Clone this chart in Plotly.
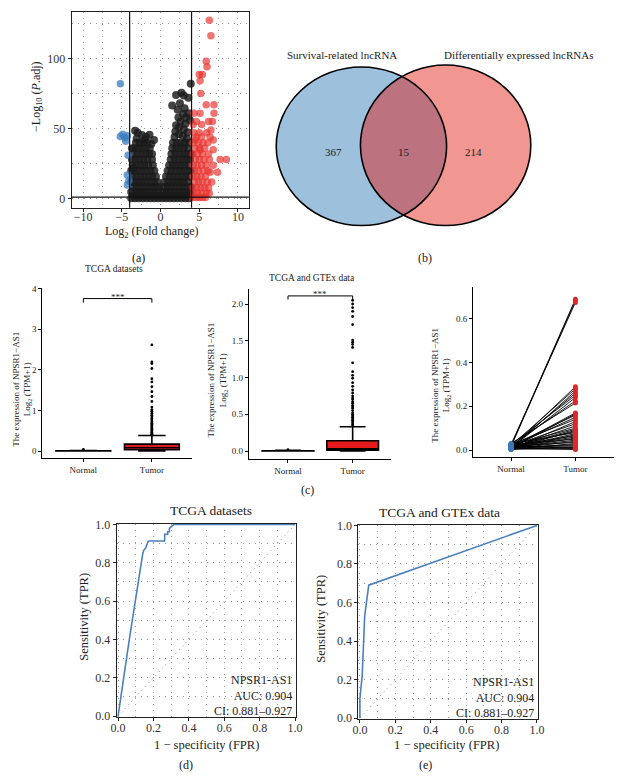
import plotly.graph_objects as go

W, H = 622, 777
FONT = "Liberation Serif"
TXT = "#222222"

# ---------------- (a) volcano data ----------------
fc_cutoff = 4.0
padj_cutoff = 1.3
black_rows = [
    (0.5, [-3.8, -3.3, -2.8, -2.3, -1.8, -1.3, -0.8, -0.3, 0.2, 0.7, 1.2, 1.7, 2.2, 2.7, 3.2, 3.7]),
    (2.5, [-3.6, -3.1, -2.6, -2.1, -1.6, -1.1, -0.6, -0.1, 0.4, 0.9, 1.4, 1.9, 2.4, 2.9, 3.4, 3.9]),
    (5, [-3.8, -3.3, -2.8, -2.3, -1.8, -1.3, -0.8, -0.3, 0.3, 0.8, 1.3, 1.8, 2.3, 2.8, 3.3, 3.8]),
    (8.5, [-3.6, -3.1, -2.6, -2.1, -1.6, -1.1, -0.6, -0.2, 0.4, 0.9, 1.4, 1.9, 2.4, 2.9, 3.4, 3.9]),
    (12, [-3.8, -3.3, -2.8, -2.3, -1.8, -1.3, -0.8, -0.4, 0.5, 1.0, 1.5, 2.0, 2.5, 3.0, 3.5]),
    (16, [-3.6, -3.1, -2.6, -2.1, -1.6, -1.1, -0.6, 0.7, 1.2, 1.7, 2.2, 2.7, 3.2, 3.7]),
    (20, [-3.8, -3.3, -2.8, -2.3, -1.8, -1.3, -0.8, 0.9, 1.4, 1.9, 2.4, 2.9, 3.4, 3.9]),
    (24, [-3.6, -3.1, -2.6, -2.1, -1.6, -1.0, 1.1, 1.6, 2.1, 2.6, 3.1, 3.6]),
    (28, [-3.7, -3.2, -2.7, -2.2, -1.7, -1.1, 1.3, 1.8, 2.3, 2.8, 3.3, 3.8]),
    (32, [-3.5, -3.0, -2.5, -2.0, -1.5, -1.1, 1.4, 1.9, 2.4, 2.9, 3.4, 3.9]),
    (36, [-3.4, -2.9, -2.4, -1.9, -1.4, 1.5, 2.0, 2.5, 3.0, 3.5]),
    (40, [-3.2, -2.7, -2.2, -1.7, 1.6, 2.1, 2.6, 3.1, 3.6]),
]
black_extra_x = [-3.3, -2.95, -2.4, -1.9, -1.43, -0.85, -3.1, -2.1, -1.2, -3.7, -3.6,
                 1.8, 2.4, 2.9, 3.4, 1.9, 2.4, 3.0, 3.5, 2.0, 2.6, 3.2, 3.8, 2.3, 2.9, 3.6,
                 1.5, 2.5, 3.1, 2.0, 2.7, 3.0, 3.6, 3.9, 2.2, 3.3]
black_extra_y = [48.5, 47, 45.5, 44, 45.6, 42, 43, 41.5, 39, 36, 22,
                 44, 46, 45, 43, 48, 51, 49.5, 47.5, 52.5, 55, 53.5, 56, 58, 60.5, 61,
                 66.5, 68, 64.5, 74, 75.5, 73.5, 72, 82, 63.5, 58]
red_rows = [
    (1, [4.2, 4.6, 5.0, 5.4, 5.8]),
    (4, [4.3, 4.8, 5.3, 5.9, 6.3]),
    (8, [4.2, 4.7, 5.2, 5.7, 6.2]),
    (12, [4.4, 4.9, 5.4, 6.0, 6.6]),
    (16, [4.2, 4.7, 5.2, 5.8]),
    (19, [6.4, 7.35]),
    (20, [4.4, 4.9, 5.5, 6.1]),
    (24, [4.2, 4.7, 5.3, 5.9, 6.8]),
    (28, [4.5, 5.0, 5.6, 6.3, 7.7, 8.5]),
    (32, [4.2, 4.8, 5.4, 6.2]),
    (35, [5.1, 6.8]),
    (36, [4.4, 5.0, 5.7]),
    (40, [4.2, 4.9, 5.5, 6.1]),
    (42, [4.5, 6.8]),
    (44, [4.6, 5.3, 6.4]),
    (47, [4.3, 5.0, 5.95]),
    (49, [6.5]),
    (53, [4.2, 5.3]),
    (55, [4.6, 6.2, 6.7]),
    (61, [4.3, 5.1, 6.9]),
    (67, [5.9, 6.9]),
    (75, [5.2]),
    (84, [5.1]),
    (88.5, [5.0, 5.4]),
    (94, [6.0]),
    (98, [5.9]),
    (116, [6.5]),
    (127, [6.3]),
]
blue_x = [-5.2, -5.2, -4.9, -4.6, -4.3, -4.5, -4.2, -4.3, -4.1, -4.3]
blue_y = [82, 44.5, 46, 43.5, 45, 41, 31, 17, 13, 10]

# ---------------- (b) venn data ----------------
venn_labels = ["Survival-related lncRNA", "Differentially expressed lncRNAs"]
venn_counts = [367, 15, 214]  # left only, overlap, right only

# ---------------- (c) expression data ----------------
groups = ["Normal", "Tumor"]
tcga_box = dict(q1=[0.0, 0.03], median=[0.0, 0.08], q3=[0.005, 0.17],
                lower=[0.0, 0.0], upper=[0.01, 0.38])
tcga_normal_out = [0.04]
tcga_tumor_out = [2.61, 2.19, 2.15, 2.03, 1.78, 1.70, 1.58, 1.46, 1.34, 1.22, 1.08, 1.02,
                  0.98, 0.93, 0.88, 0.84, 0.80, 0.76, 0.72, 0.68, 0.65, 0.62, 0.59, 0.56,
                  0.53, 0.50, 0.47, 0.45, 0.43, 0.41, 0.39]
gtex_box = dict(q1=[0.0, 0.01], median=[0.0, 0.03], q3=[0.004, 0.14],
                lower=[0.0, 0.0], upper=[0.01, 0.33])
gtex_normal_out = [0.02]
gtex_tumor_out = [2.05, 2.0, 1.95, 1.9, 1.83, 1.72, 1.51, 1.48, 1.45, 1.41, 1.20, 1.08, 1.03,
                  0.99, 0.93, 0.88, 0.83, 0.79, 0.75, 0.72, 0.70, 0.67, 0.65, 0.62, 0.60,
                  0.58, 0.55, 0.52, 0.50, 0.48, 0.46, 0.44, 0.42, 0.40, 0.38, 0.36, 0.34]
tcga_bracket = (3.65, 3.75)
gtex_bracket = (2.06, 2.11)

paired_normal = [0.02, 0.015, 0.025, 0.01, 0.02, 0.005, 0.015, 0.025, 0.01, 0.02, 0.03,
                 0.012, 0.008, 0.02, 0.015, 0.025, 0.005, 0.018, 0.01, 0.022, 0.012, 0.006,
                 0.016, 0.028, 0.01, 0.004, 0.02, 0.014, 0.008, 0.024, 0.012, 0.006, 0.018,
                 0.003, 0.01, 0.015, 0.005, 0.02, 0.008, 0.012, 0.004, 0.01]
paired_tumor = [0.69, 0.685, 0.675, 0.29, 0.28, 0.27, 0.26, 0.25, 0.24, 0.225, 0.215, 0.17,
                0.165, 0.16, 0.15, 0.14, 0.13, 0.12, 0.11, 0.10, 0.095, 0.09, 0.085, 0.08,
                0.075, 0.07, 0.065, 0.06, 0.055, 0.05, 0.045, 0.04, 0.035, 0.03, 0.025, 0.02,
                0.015, 0.012, 0.01, 0.008, 0.005, 0.003]

# ---------------- (d)/(e) ROC data ----------------
roc_d_fpr = [0, 0.066, 0.14, 0.145, 0.155, 0.16, 0.171, 0.263, 0.263, 0.28, 0.28, 0.29, 0.29, 0.315, 1.0]
roc_d_tpr = [0, 0.415, 0.85, 0.865, 0.875, 0.89, 0.914, 0.914, 0.949, 0.949, 0.962, 0.962, 0.98, 1.0, 1.0]
roc_e_fpr = [0, 0.0, 0.013, 0.027, 0.05, 1.0]
roc_e_tpr = [0, 0.10, 0.22, 0.53, 0.69, 1.0]
roc_lines = ["NPSR1-AS1", "AUC: 0.904", "CI: 0.881–0.927"]


def flatten(rows):
    xs, ys = [], []
    for yv, xl in rows:
        for xv in xl:
            xs.append(xv)
            ys.append(yv)
    return xs, ys


def dx(a, b):
    return [a / W, b / W]


def dy(top, bottom):
    return [1 - bottom / H, 1 - top / H]


fig = go.Figure()

# volcano
bx, by = flatten(black_rows)
bx += black_extra_x
by += black_extra_y
rx, ry = flatten(red_rows)
fig.add_trace(go.Scatter(x=bx, y=by, mode="markers", xaxis="x", yaxis="y",
                         marker=dict(size=8, color="#1a1a1a", opacity=0.82, line=dict(width=0))))
fig.add_trace(go.Scatter(x=rx, y=ry, mode="markers", xaxis="x", yaxis="y",
                         marker=dict(size=7.5, color="#e8302c", opacity=0.68, line=dict(width=0))))
fig.add_trace(go.Scatter(x=blue_x, y=blue_y, mode="markers", xaxis="x", yaxis="y",
                         marker=dict(size=7.5, color="#3a7bbf", opacity=0.75, line=dict(width=0))))


def add_box(box, xa, ya):
    fills = ["#377eb8", "#e41a1c"]
    for i in range(2):
        fig.add_trace(go.Box(x=[i + 1], q1=[box["q1"][i]], median=[box["median"][i]],
                             q3=[box["q3"][i]], lowerfence=[box["lower"][i]],
                             upperfence=[box["upper"][i]], boxpoints=False, width=0.8,
                             fillcolor=fills[i], line=dict(color="black", width=1.6),
                             xaxis=xa, yaxis=ya))


add_box(tcga_box, "x3", "y3")
fig.add_trace(go.Scatter(x=[1] * len(tcga_normal_out) + [2] * len(tcga_tumor_out),
                         y=tcga_normal_out + tcga_tumor_out, mode="markers", xaxis="x3", yaxis="y3",
                         marker=dict(size=2.8, color="black")))
fig.add_trace(go.Scatter(x=[1, 1, 2, 2], y=[tcga_bracket[0], tcga_bracket[1], tcga_bracket[1], tcga_bracket[0]],
                         mode="lines", line=dict(color="black", width=1), xaxis="x3", yaxis="y3"))

add_box(gtex_box, "x4", "y4")
fig.add_trace(go.Scatter(x=[1] * len(gtex_normal_out) + [2] * len(gtex_tumor_out),
                         y=gtex_normal_out + gtex_tumor_out, mode="markers", xaxis="x4", yaxis="y4",
                         marker=dict(size=2.8, color="black")))
fig.add_trace(go.Scatter(x=[1, 1, 2, 2], y=[gtex_bracket[0], gtex_bracket[1], gtex_bracket[1], gtex_bracket[0]],
                         mode="lines", line=dict(color="black", width=1), xaxis="x4", yaxis="y4"))

# paired
lx, ly = [], []
for n, t in zip(paired_normal, paired_tumor):
    lx += [1, 2, None]
    ly += [n, t, None]
fig.add_trace(go.Scatter(x=lx, y=ly, mode="lines", line=dict(color="black", width=0.9),
                         xaxis="x5", yaxis="y5"))
fig.add_trace(go.Scatter(x=[1] * len(paired_normal), y=paired_normal, mode="markers",
                         marker=dict(size=5, color="#3a78b8"), xaxis="x5", yaxis="y5"))
fig.add_trace(go.Scatter(x=[2] * len(paired_tumor), y=paired_tumor, mode="markers",
                         marker=dict(size=5, color="#e3262b"), xaxis="x5", yaxis="y5"))

# ROC
fig.add_trace(go.Scatter(x=roc_d_fpr, y=roc_d_tpr, mode="lines", line=dict(color="#4a7fc0", width=1.6),
                         xaxis="x6", yaxis="y6"))
fig.add_trace(go.Scatter(x=roc_e_fpr, y=roc_e_tpr, mode="lines", line=dict(color="#4a7fc0", width=1.6),
                         xaxis="x7", yaxis="y7"))

tick_font = dict(family=FONT, size=12, color="#333")
small_font = dict(family=FONT, size=9, color=TXT)
GRID = "#9a9a9a"
DOTS = "1px,5px"

grid_common = dict(showgrid=True, gridcolor=GRID, griddash=DOTS, gridwidth=1, zeroline=False,
                   showline=True, mirror=True, linecolor="#222", linewidth=1, ticks="outside",
                   ticklen=3, tickcolor="#222", tickfont=tick_font)
minor_grid = lambda d: dict(dtick=d, showgrid=True, gridcolor=GRID, griddash=DOTS, gridwidth=1)

c_common = dict(showgrid=False, zeroline=False, showline=True, mirror=False, linecolor="black",
                linewidth=1, ticks="outside", ticklen=3, tickcolor="black", tickfont=small_font)

layout = dict(
    width=W, height=H, margin=dict(l=0, r=0, t=0, b=0), autosize=False,
    paper_bgcolor="white", plot_bgcolor="white", showlegend=False, boxmode="overlay",
    xaxis=dict(domain=dx(67, 248), range=[-11.5, 11.4], anchor="y", dtick=5, ticklabelstandoff=-5,
               minor=minor_grid(2.5), **grid_common),
    yaxis=dict(domain=dy(6, 205), range=[-6.3, 133], anchor="x", dtick=50,
               minor=minor_grid(25), **grid_common),
    xaxis2=dict(domain=dx(260, 560), range=[260, 560], anchor="y2", visible=False),
    yaxis2=dict(domain=dy(40, 240), range=[240, 40], anchor="x2", visible=False),
    xaxis3=dict(domain=dx(37, 190), range=[0.4, 2.586], anchor="y3", tickvals=[1, 2], ticktext=groups, **c_common),
    yaxis3=dict(domain=dy(286, 459), range=[-0.17, 4.02], anchor="x3", dtick=1, **c_common),
    xaxis4=dict(domain=dx(248, 393), range=[0.394, 2.59], anchor="y4", tickvals=[1, 2], ticktext=groups, **c_common),
    yaxis4=dict(domain=dy(287, 460), range=[-0.107, 2.21], anchor="x4", dtick=0.5, tickformat=".1f", **c_common),
    xaxis5=dict(domain=dx(477, 621), range=[0.41, 2.6], anchor="y5", tickvals=[1, 2], ticktext=groups, **c_common),
    yaxis5=dict(domain=dy(285, 458), range=[-0.0315, 0.748], anchor="x5", tickvals=[0, 0.2, 0.4, 0.6],
                tickformat=".1f", **c_common),
    xaxis6=dict(domain=dx(113, 296), range=[-0.008, 1.004], anchor="y6", dtick=0.2, tickformat=".1f",
                ticklabelstandoff=-3, minor=minor_grid(0.1), **grid_common),
    yaxis6=dict(domain=dy(526, 722), range=[-0.004, 1.003], anchor="x6", dtick=0.2, tickformat=".1f",
                minor=minor_grid(0.1), **grid_common),
    xaxis7=dict(domain=dx(360, 543), range=[-0.008, 1.004], anchor="y7", dtick=0.2, tickformat=".1f",
                ticklabelstandoff=-3, minor=minor_grid(0.1), **grid_common),
    yaxis7=dict(domain=dy(527, 724), range=[-0.004, 1.003], anchor="x7", dtick=0.2, tickformat=".1f",
                minor=minor_grid(0.1), **grid_common),
)
fig.update_layout(**layout)

shapes = []
for xv in (-fc_cutoff, fc_cutoff):
    shapes.append(dict(type="line", xref="x", yref="y domain", x0=xv, x1=xv, y0=0, y1=1,
                       line=dict(color="#111", width=1.2)))
shapes.append(dict(type="line", xref="x domain", yref="y", x0=0, x1=1, y0=padj_cutoff, y1=padj_cutoff,
                   line=dict(color="#111", width=1.2)))
left_c = dict(x0=276, x1=450, y0=62, y1=223)
right_c = dict(x0=362, x1=536, y0=60, y1=223)
shapes.append(dict(type="circle", xref="x2", yref="y2", fillcolor="rgb(157,192,221)", line=dict(width=0), **left_c))
shapes.append(dict(type="circle", xref="x2", yref="y2", fillcolor="rgba(226,22,14,0.45)", line=dict(width=0), **right_c))
shapes.append(dict(type="circle", xref="x2", yref="y2", line=dict(color="black", width=1.6), **left_c))
shapes.append(dict(type="circle", xref="x2", yref="y2", line=dict(color="black", width=1.6), **right_c))
for xa, ya in (("x6", "y6"), ("x7", "y7")):
    shapes.append(dict(type="line", xref=xa, yref=ya, x0=0, y0=0, x1=1, y1=1,
                       line=dict(color="#888", width=1, dash="1px,4px"), layer="below"))
fig.update_layout(shapes=shapes)


def ann(text, x, y, size=12, angle=0, xanchor="center", yanchor="middle", align="center"):
    return dict(text=text, x=x / W, y=1 - y / H, xref="paper", yref="paper", showarrow=False,
                font=dict(family=FONT, size=size, color=TXT), textangle=angle,
                xanchor=xanchor, yanchor=yanchor, align=align)


roc_text = "<br>".join(roc_lines)
anns = [
    ann("Log<sub>2</sub> (Fold change)", 149, 230, 12),
    ann("−Log<sub>10</sub> (<i>P</i>.adj)", 31, 92, 12, angle=-90),
    ann(venn_labels[0], 343, 50, 11),
    ann(venn_labels[1], 523, 50, 11),
    ann(str(venn_counts[0]), 335, 148, 11),
    ann(str(venn_counts[1]), 406, 148, 11),
    ann(str(venn_counts[2]), 477, 148, 11),
    ann("(a)", 135, 256, 12),
    ann("(b)", 428, 256, 12),
    ann("(c)", 308, 492, 12),
    ann("(d)", 184, 771, 12),
    ann("(e)", 428, 771, 12),
    ann("TCGA datasets", 110, 267, 9.5),
    ann("TCGA and GTEx data", 313, 276, 9.5),
    ann("The expression of NPSR1−AS1<br>Log<sub>2</sub> (TPM+1)", 17, 389, 9, angle=-90),
    ann("The expression of NPSR1−AS1<br>Log<sub>2</sub> (TPM+1)", 216, 380, 9, angle=-90),
    ann("The expression of NPSR1−AS1<br>Log<sub>2</sub> (TPM+1)", 444, 385, 9, angle=-90),
    ann("***", 114, 296, 9),
    ann("***", 321, 293, 9),
    ann("TCGA datasets", 209, 512, 13.5),
    ann("TCGA and GTEx data", 443, 514, 13.5),
    ann("Sensitivity (TPR)", 80, 620, 12.5, angle=-90),
    ann("Sensitivity (TPR)", 322, 622, 12.5, angle=-90),
    ann("1 − specificity (FPR)", 205, 751, 12.5),
    ann("1 − specificity (FPR)", 450, 751, 12.5),
    ann(roc_text, 294, 700, 12, xanchor="right", align="right"),
    ann(roc_text, 541, 702, 12, xanchor="right", align="right"),
]
fig.update_layout(annotations=anns)

fig.write_html("out.html", config={"displayModeBar": False},
               post_script="document.body.style.margin='0px';")
